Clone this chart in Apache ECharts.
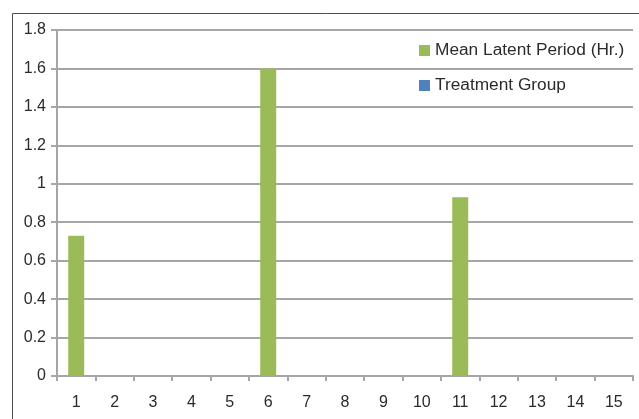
<!DOCTYPE html>
<html>
<head>
<meta charset="utf-8">
<script src="https://cdn.jsdelivr.net/npm/echarts@6/dist/echarts.min.js"></script>
<style>
  html, body { margin: 0; padding: 0; background: #fff; }
  #chart { width: 639px; height: 419px; }
</style>
</head>
<body>
<div id="chart"></div>
<script>
// Groups along the x axis
const categories = ['1','2','3','4','5','6','7','8','9','10','11','12','13','14','15'];
// Mean latent period in hours, one value per group (null = no bar)
const latentPeriod = [0.73, null, null, null, null, 1.6, null, null, null, null, 0.93, null, null, null, null];
// Treatment group series carries no bars
const treatmentGroup = [null, null, null, null, null, null, null, null, null, null, null, null, null, null, null];

const gridColor = '#a6a6a6';
const textColor = '#2b2b2b';
const fontFamily = '"Liberation Sans", Arial, sans-serif';

const chart = echarts.init(document.getElementById('chart'));
chart.setOption({
  animation: false,
  backgroundColor: '#ffffff',
  textStyle: { fontFamily: fontFamily },
  graphic: [{
    type: 'rect',
    shape: { x: 12.5, y: 13.5, width: 700, height: 500 },
    style: { fill: 'none', stroke: '#4d4d4d', lineWidth: 1 },
    silent: true,
    z: -10
  }],
  grid: { left: 57, right: 6, top: 30, bottom: 43, containLabel: false },
  legend: {
    orient: 'vertical',
    left: 414, top: 37,
    itemWidth: 11, itemHeight: 11,
    itemGap: 18,
    icon: 'rect',
    textStyle: { fontSize: 17.3, color: textColor, fontFamily: fontFamily },
    data: ['Mean Latent Period (Hr.)', 'Treatment Group']
  },
  xAxis: {
    type: 'category',
    data: categories,
    boundaryGap: true,
    axisLine: { lineStyle: { color: gridColor, width: 2 } },
    axisTick: { show: true, length: 5, lineStyle: { color: gridColor, width: 2 } },
    axisLabel: { color: textColor, fontSize: 16, margin: 19, fontFamily: fontFamily }
  },
  yAxis: {
    type: 'value',
    min: 0, max: 1.8, interval: 0.2,
    axisLine: { show: true, lineStyle: { color: gridColor, width: 2 } },
    axisTick: { show: true, length: 6, lineStyle: { color: gridColor, width: 2 } },
    splitLine: { lineStyle: { color: gridColor, width: 2 } },
    axisLabel: {
      color: textColor, fontSize: 16, margin: 11, fontFamily: fontFamily,
      formatter: v => String(Math.round(v * 10) / 10)
    }
  },
  series: [
    {
      name: 'Mean Latent Period (Hr.)',
      type: 'bar',
      data: latentPeriod,
      barWidth: 16,
      barGap: '-100%',
      itemStyle: { color: '#9bbb59' }
    },
    {
      name: 'Treatment Group',
      type: 'bar',
      data: treatmentGroup,
      barWidth: 16,
      itemStyle: { color: '#4f81bd' }
    }
  ]
});
</script>
</body>
</html>
